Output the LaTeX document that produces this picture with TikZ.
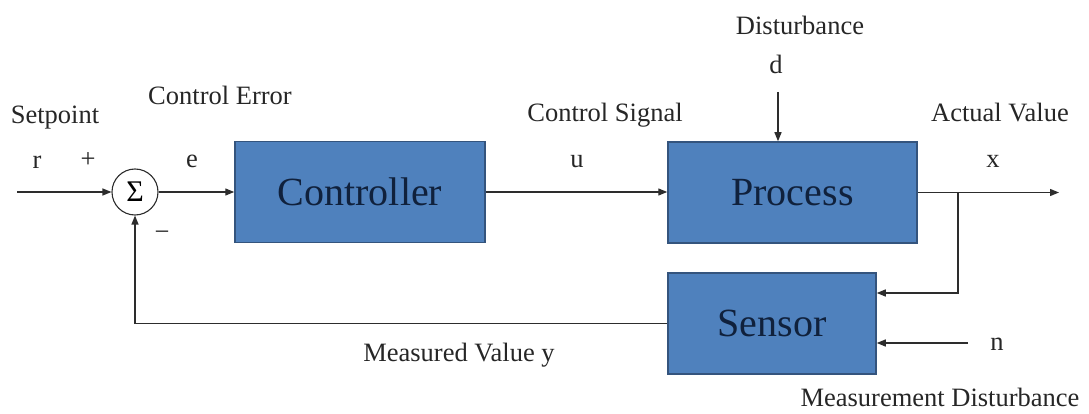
\documentclass[tikz,border=0pt]{standalone}
\usepackage{fontspec}
\setmainfont{Liberation Serif}
\usepackage{xcolor}
\usetikzlibrary{arrows.meta, positioning, calc}
\definecolor{blockblue}{RGB}{79,129,189}
\definecolor{blockedge}{RGB}{52,84,125}
\definecolor{blocktext}{RGB}{16,33,60}
\definecolor{linegray}{RGB}{45,45,45}
\tikzstyle{block}  = [rectangle, draw=blockedge, line width=1.5pt, fill=blockblue,
                      text=blocktext, minimum height=101pt,
                      font=\fontsize{40}{44}\selectfont]
\tikzstyle{sum}    = [circle, draw=linegray, line width=1.1pt, fill=white,
                      minimum size=46pt, inner sep=0pt,
                      font=\fontsize{30}{32}\selectfont]
\tikzstyle{lbl}    = [inner sep=0pt, text=black!85, font=\fontsize{26.5}{30}\selectfont]
\tikzstyle{arrow}  = [-{Triangle[length=9pt, width=7pt]}, line width=1.3pt, draw=linegray]

\begin{document}
\begin{tikzpicture}[x=1pt, y=-1pt]
  \useasboundingbox (0,0) rectangle (1089,414);

  \node[sum] (sum) at (135,192) {Σ};
  \node[block, minimum width=250pt] (ctrl) at (360,192) {Controller};
  \node[block, minimum width=249pt] (proc) at (792.5,192.5) {Process};
  \node[block, minimum width=208pt] (sens) at (772,323.5) {Sensor};

  \coordinate (in)     at (17,192);
  \coordinate (out)    at (1059,192.5);
  \coordinate (branch) at (958,192.5);
  \coordinate (dtop)   at (778,92);
  \coordinate (nend)   at (968,343);

  \node[lbl] (setpoint) at (55,118)  {Setpoint};
  \node[lbl] (r)        at (37,162)  {r};
  \node[lbl] (plus)     at (88,160)  {+};
  \node[lbl] (minus)    at (162,236) {−};
  \node[lbl] (cerr)     at (220,95)  {Control Error};
  \node[lbl] (e)        at (192,161) {e};
  \node[lbl] (csig)     at (605,115) {Control Signal};
  \node[lbl] (u)        at (577,162) {u};
  \node[lbl] (dist)     at (800,25)  {Disturbance};
  \node[lbl] (d)        at (776,64)  {d};
  \node[lbl] (actual)   at (1000,113) {Actual Value};
  \node[lbl] (x)        at (993,161) {x};
  \node[lbl] (meas)     at (459,355) {Measured Value y};
  \node[lbl] (n)        at (997,344) {n};
  \node[lbl] (mdist)    at (940,397) {Measurement Disturbance};

  \draw[arrow] (in) -- (sum);
  \draw[arrow] (sum) -- (ctrl);
  \draw[arrow] (ctrl) -- (proc.west |- ctrl);
  \draw[arrow] (proc) -- (out);
  \draw[arrow] (dtop) -- (dtop |- proc.north);
  \draw[arrow] (branch) |- ([yshift=30.5pt]sens.east);
  \draw[arrow] (nend) -- ([yshift=-19.5pt]sens.east);
  \draw[arrow] (sens.west) -| (sum.south);
\end{tikzpicture}
\end{document}
